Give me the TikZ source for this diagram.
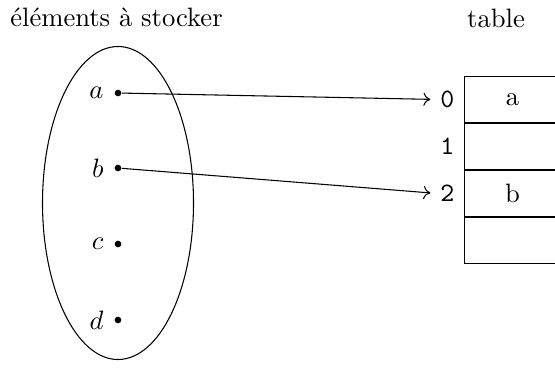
\documentclass[tikz,border=0pt]{standalone}
\usetikzlibrary{arrows.meta}
\begin{document}
\begin{tikzpicture}[x=0.376pt,y=-0.376pt,
  dot/.style={circle,fill,inner sep=0pt,minimum size=2.5pt},
  elt/.style={anchor=east,inner sep=0pt},
  cell/.style={draw,minimum width=36pt,minimum height=17.3pt,inner sep=0pt,anchor=north west},
  idx/.style={font=\ttfamily,inner sep=0pt,anchor=east},
  link/.style={-{To[length=2.6pt,width=5pt]},line width=0.4pt,shorten >=3.6pt}]
\useasboundingbox (0,0) rectangle (555,367);
\node[anchor=base] (t1) at (116.5,26) {éléments à stocker};
\node[anchor=base] (t2) at (496,27) {table};
\coordinate (E) at (118,203);
\draw (E) ellipse [x radius=75.5, y radius=156.5];
\foreach \n/\y in {a/93,b/168,c/244,d/320}{
  \node[dot] (\n) at (118,\y) {};
  \node[elt] (l\n) at (104,\y) {$\n$};
}
\node[cell] (r0) at (464,76) {a};
\node[cell] (r1) at (r0.south west) {};
\node[cell] (r2) at (r1.south west) {b};
\node[cell] (r3) at (r2.south west) {};
\node[idx] (i0) at ([xshift=-3.4pt]r0.west) {0};
\node[idx] (i1) at ([xshift=-3.4pt]r1.west) {1};
\node[idx] (i2) at ([xshift=-3.4pt]r2.west) {2};
\draw[link] (a) -- (i0.west);
\draw[link] (b) -- (i2.west);
\end{tikzpicture}
\end{document}
